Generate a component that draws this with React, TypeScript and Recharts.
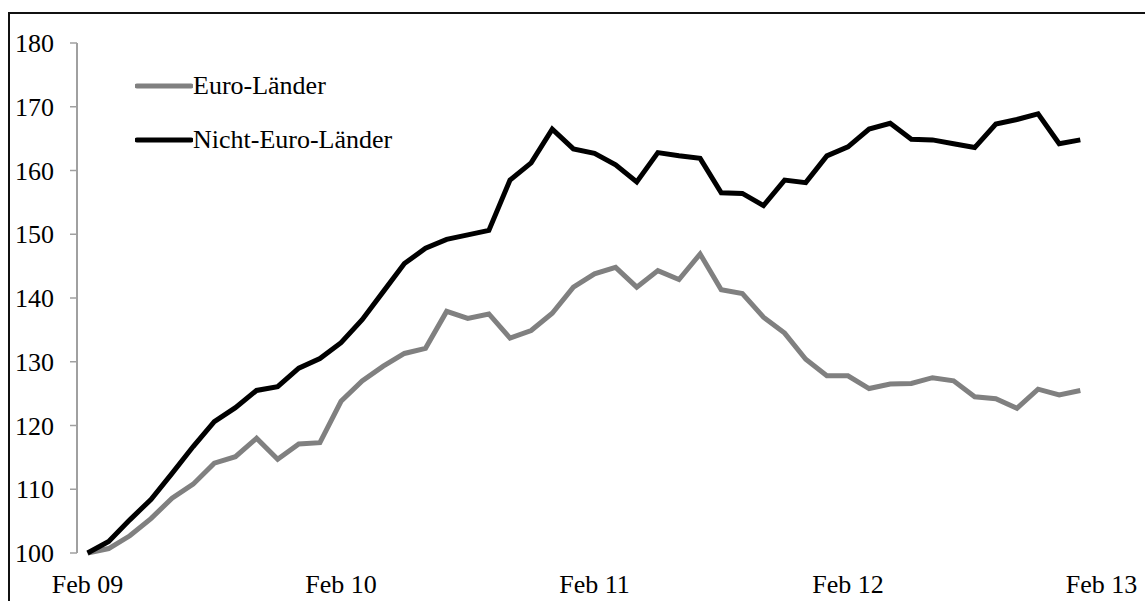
import { LineChart, Line, XAxis, YAxis, Legend } from "recharts";

const monthNames = ["Feb", "Mär", "Apr", "Mai", "Jun", "Jul", "Aug", "Sep", "Okt", "Nov", "Dez", "Jan"];
const years = ["09", "10", "11", "12"];

// 49 categories: Feb 09 ... Feb 13 (last one has no data)
const months: string[] = [
  ...years.flatMap((y) =>
    monthNames.map((m, mi) => `${m} ${mi === 11 ? String(Number(y) + 1).padStart(2, "0") : y}`)
  ),
  "Feb 13",
];

const euroLaender = [
  100, 100.7, 102.7, 105.4, 108.6, 110.8, 114.1, 115.1, 118.0, 114.7, 117.1, 117.3,
  123.8, 127.0, 129.3, 131.3, 132.1, 137.9, 136.8, 137.5, 133.7, 134.9, 137.6, 141.7,
  143.8, 144.8, 141.7, 144.3, 142.9, 146.9, 141.3, 140.7, 137.0, 134.5, 130.4, 127.8,
  127.8, 125.8, 126.5, 126.6, 127.5, 127.0, 124.5, 124.2, 122.7, 125.7, 124.8, 125.5,
];

const nichtEuroLaender = [
  100, 101.8, 105.2, 108.4, 112.5, 116.7, 120.6, 122.8, 125.5, 126.1, 129.0, 130.5,
  133.0, 136.6, 141.0, 145.4, 147.8, 149.2, 149.9, 150.6, 158.5, 161.2, 166.5, 163.4,
  162.7, 160.9, 158.2, 162.8, 162.3, 161.9, 156.5, 156.4, 154.5, 158.5, 158.1, 162.3,
  163.7, 166.5, 167.4, 164.9, 164.8, 164.2, 163.6, 167.3, 168.0, 168.9, 164.2, 164.8,
];

const yTicks = [100, 110, 120, 130, 140, 150, 160, 170, 180];
const boundaryTicks = months.map((_, i) => i).concat(months.length);

const data = months.map((m, i) => ({
  month: m,
  euro: euroLaender[i],
  nicht: nichtEuroLaender[i],
}));

const FONT = '"Liberation Serif", "Times New Roman", serif';
const AXIS_GRAY = "#a0a0a0";
const FS = 26;

function LegendBox(props: any) {
  const { payload } = props;
  return (
    <div style={{ fontFamily: FONT, fontSize: FS, color: "#000" }}>
      {payload.map((p: any) => (
        <div key={p.value} style={{ display: "flex", alignItems: "center", height: 54 }}>
          <svg width={58} height={8}>
            <line x1={2} y1={4} x2={56} y2={4} stroke={p.color} strokeWidth={5} strokeLinecap="round" />
          </svg>
          <span>{p.value}</span>
        </div>
      ))}
    </div>
  );
}

export default function App() {
  return (
    <div style={{ position: "fixed", left: 0, top: 0, width: 1145, height: 601, overflow: "hidden", background: "#fff" }}>
      <div
        style={{
          position: "absolute",
          left: 8,
          top: 12,
          width: 1200,
          height: 700,
          borderTop: "2px solid #111",
          borderLeft: "2px solid #111",
        }}
      />
      <div style={{ position: "absolute", left: 8, top: 8 }}>
        <LineChart
          width={1137}
          height={593}
          data={data}
          margin={{ top: 35, right: 33, bottom: 0, left: 0 }}
        >
          <XAxis
            xAxisId="bounds"
            type="number"
            dataKey={() => 0}
            domain={[0, months.length]}
            ticks={boundaryTicks}
            tick={false}
            height={0}
            tickSize={7}
            axisLine={{ stroke: AXIS_GRAY, strokeWidth: 2 }}
            tickLine={{ stroke: AXIS_GRAY, strokeWidth: 1.5 }}
          />
          <XAxis
            dataKey="month"
            scale="band"
            interval={11}
            height={48}
            axisLine={false}
            tickLine={false}
            tickSize={0}
            tickMargin={22}
            tick={{ fill: "#000", fontSize: FS, fontFamily: FONT }}
          />
          <YAxis
            domain={[100, 180]}
            ticks={yTicks}
            width={69}
            tickSize={7}
            tickMargin={16}
            axisLine={{ stroke: AXIS_GRAY, strokeWidth: 2 }}
            tickLine={{ stroke: AXIS_GRAY, strokeWidth: 1.5 }}
            tick={{ fill: "#000", fontSize: FS, fontFamily: FONT }}
          />
          <Legend
            layout="vertical"
            align="center"
            verticalAlign="middle"
            wrapperStyle={{ top: 51, left: 127, width: 340 }}
            content={<LegendBox />}
          />
          <Line
            name="Euro-Länder"
            dataKey="euro"
            stroke="#808080"
            strokeWidth={5}
            dot={false}
            activeDot={false}
            isAnimationActive={false}
          />
          <Line
            name="Nicht-Euro-Länder"
            dataKey="nicht"
            stroke="#000000"
            strokeWidth={5}
            dot={false}
            activeDot={false}
            isAnimationActive={false}
          />
        </LineChart>
      </div>
    </div>
  );
}
